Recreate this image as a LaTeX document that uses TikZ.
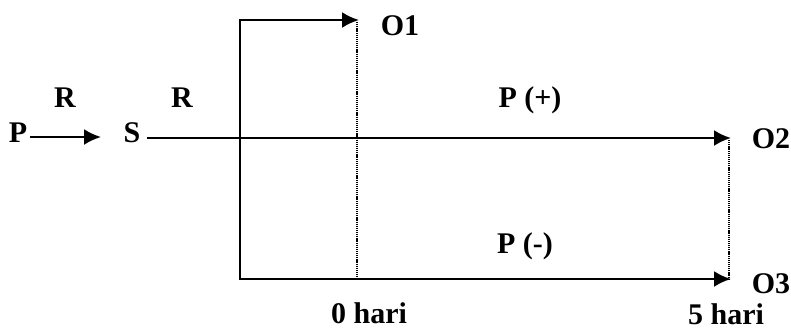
\documentclass[tikz,border=0pt]{standalone}
\usepackage{fontspec}
\setmainfont{Liberation Serif}
\usetikzlibrary{arrows.meta}
\begin{document}
\begin{tikzpicture}[x=1pt,y=-1pt,
  lbl/.style={font=\fontsize{30}{30}\selectfont\bfseries, inner sep=0pt, anchor=base},
  solidline/.style={line width=2.3pt},
  arr/.style={solidline,-{Latex[length=17pt,width=16pt]}},
  dots/.style={line width=1.3pt, dash pattern=on 1.2pt off 0.9pt}]
\useasboundingbox (0,0) rectangle (791,330);
% labels
\node[lbl] (P) at (18,142) {P};
\node[lbl] (S) at (132,142) {S};
\node[lbl] (R1) at (65,107) {R};
\node[lbl] (R2) at (182,107) {R};
\node[lbl] (O1) at (400,35) {O1};
\node[lbl] (O2) at (771,148) {O2};
\node[lbl] (O3) at (771,293) {O3};
\node[lbl] (Pp) at (530,107) {P (+)};
\node[lbl] (Pm) at (525,253) {P (-)};
\node[lbl] (h0) at (369,323) {0 hari};
\node[lbl] (h5) at (726,324) {5 hari};
% coordinates
\coordinate (pa) at (30,137);
\coordinate (pb) at (101,137);
\coordinate (sa) at (147,138);
\coordinate (t2) at (731,138);
\coordinate (vt) at (240,20);
\coordinate (vb) at (240,279);
\coordinate (t1) at (359,20);
\coordinate (t3) at (731,279);
\coordinate (d1a) at (357,22);
\coordinate (d1b) at (357,279);
\coordinate (d2a) at (729,140);
\coordinate (d2b) at (729,279);
% connectors
\draw[arr] (pa) -- (pb);
\draw[arr] (sa) -- (t2);
\draw[solidline] (vt) -- (vb);
\draw[arr] ([xshift=-1.15pt]vt) -- (t1);
\draw[arr] ([xshift=-1.15pt]vb) -- (t3);
\draw[dots] (d1a) -- (d1b);
\draw[dots] (d2a) -- (d2b);
\end{tikzpicture}
\end{document}
